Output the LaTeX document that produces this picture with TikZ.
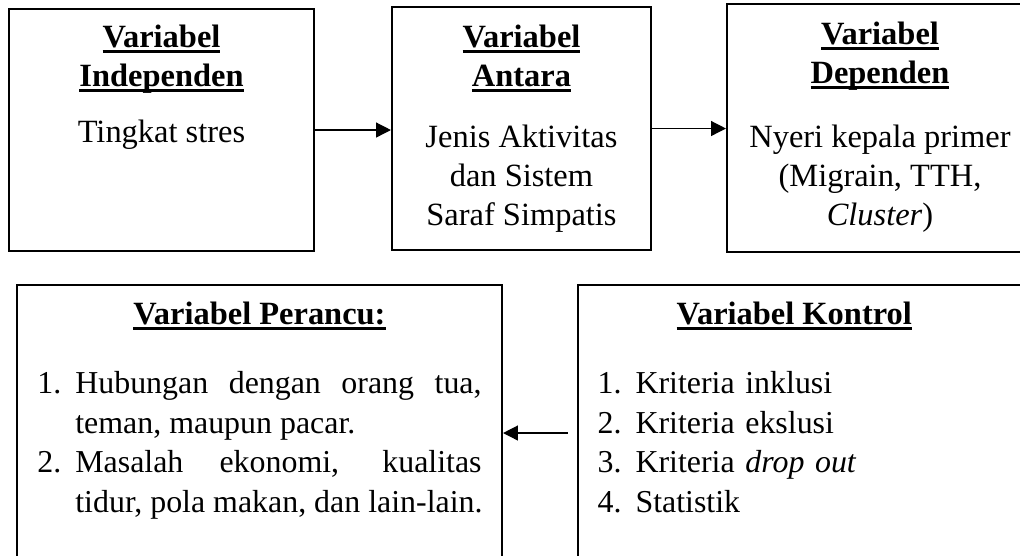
\documentclass[tikz,border=0pt]{standalone}
\usepackage{fontspec}
\setmainfont{Liberation Serif}
\usetikzlibrary{arrows.meta,positioning,fit}

\newcommand{\heading}[1]{\setbox0\hbox{\bfseries #1}\leavevmode\rlap{\raisebox{-1.9pt}{\rule{\wd0}{1.2pt}}}\box0}
\newcommand{\numitem}[1]{\par\hangindent=13.8pt\hangafter=1\noindent\makebox[13.8pt][l]{#1}}

\begin{document}
\begin{tikzpicture}[x=0.3636pt, y=-0.3636pt]
  \tikzstyle{box}=[rectangle, draw=black, line width=0.75pt, inner sep=0pt]
  \tikzstyle{boxtext}=[font=\fontsize{11.8}{14.2}\selectfont, inner sep=0pt, align=center]
  \tikzstyle{itemlist}=[font=\fontsize{11.6}{14.5}\selectfont, inner sep=0pt, text width=161.5pt]
  \tikzstyle{line} = [draw, line width=0.5pt, -{Triangle[length=5.4pt, width=5.4pt]}]

  \useasboundingbox (0,0) rectangle (1020,555);
  \clip (0,0) rectangle (1020,555);

  % top row
  \node [box, fit={(9,9) (314,251)}] (independen) {};
  \node [box, fit={(392,7) (651,250)}] (antara) {};
  \node [box, fit={(727,4) (1033,252)}] (dependen) {};

  \node [boxtext, below=6.1pt of independen.north] (independen_text) {
    \heading{Variabel}\\\heading{Independen}\\[6pt]
    Tingkat stres
  };
  \node [boxtext, below=6.8pt of antara.north] (antara_text) {
    \heading{Variabel}\\\heading{Antara}\\[7.8pt]
    Jenis Aktivitas\\dan Sistem\\Saraf Simpatis
  };
  \node [boxtext, below=6.8pt of dependen.north] (dependen_text) {
    \heading{Variabel}\\\heading{Dependen}\\[9pt]
    Nyeri kepala primer\\(Migrain, TTH,\\\textit{Cluster})
  };

  % bottom row
  \node [box, fit={(17,285) (502,581)}] (perancu) {};
  \node [box, fit={(578,285) (1033,581)}] (kontrol) {};

  \node [boxtext, below=6.4pt of perancu.north] (perancu_title) {\heading{Variabel Perancu:}};
  \node [boxtext, below=6.4pt of kontrol.north, xshift=-4.1pt] (kontrol_title) {\heading{Variabel Kontrol}};

  \node [itemlist, align=justify, below right=25pt and 7.6pt of perancu.north west] (perancu_list) {%
    \numitem{1.}Hubungan dengan orang tua,\linebreak teman, maupun pacar.
    \numitem{2.}Masalah ekonomi, kualitas\linebreak \mbox{tidur, pola makan, dan lain-lain.}\par
  };
  \node [itemlist, align=left, below right=25pt and 7.3pt of kontrol.north west] (kontrol_list) {%
    \numitem{1.}Kriteria inklusi
    \numitem{2.}Kriteria ekslusi
    \numitem{3.}Kriteria \textit{drop out}
    \numitem{4.}Statistik\par
  };

  \draw [line] (independen.east) -- (independen.east -| antara.west);
  \draw [line] (antara.east) -- (antara.east -| dependen.west);
  \draw [line, shorten <=3.3pt] (kontrol.west) -- (kontrol.west -| perancu.east);
\end{tikzpicture}
\end{document}
